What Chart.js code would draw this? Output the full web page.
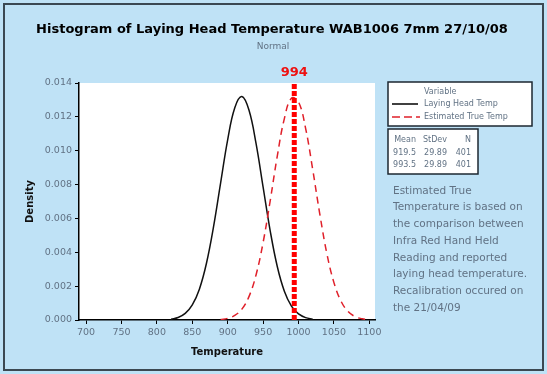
<!DOCTYPE html>
<html>
<head>
<meta charset="utf-8">
<script src="https://cdn.jsdelivr.net/npm/chart.js@4.4.0/dist/chart.umd.min.js"></script>
<style>
  html, body { margin: 0; padding: 0; background: #bfe2f6; }
  #wrap { width: 547px; height: 374px; position: relative; }
</style>
</head>
<body>
<div id="wrap"><canvas id="chart" width="547" height="374"></canvas></div>
<script>
// values
const xTicks = [700, 750, 800, 850, 900, 950, 1000, 1050, 1100];
const yTicks = [0, 0.002, 0.004, 0.006, 0.008, 0.010, 0.012, 0.014];

const layingTemps = [820, 830, 840, 850, 860, 870, 880, 890, 900, 910, 920, 930, 940, 950, 960, 970, 980, 990, 1000, 1010, 1020];
const layingDensity = [0.00005, 0.00015, 0.00039, 0.00089, 0.00182, 0.00335, 0.00551, 0.0081, 0.01066, 0.01254, 0.0132, 0.0124, 0.01043, 0.00785, 0.00527, 0.00316, 0.0017, 0.00082, 0.00036, 0.00014, 0.00005];

const trueTemps = [890, 900, 910, 920, 930, 940, 950, 960, 970, 980, 990, 1000, 1010, 1020, 1030, 1040, 1050, 1060, 1070, 1080, 1090, 1100];
const trueDensity = [0.00003, 0.0001, 0.00027, 0.00064, 0.00138, 0.00266, 0.00458, 0.00704, 0.00968, 0.0119, 0.0131, 0.01288, 0.01132, 0.0089, 0.00627, 0.00393, 0.00221, 0.00111, 0.0005, 0.0002, 0.00007, 0.00002];

const refLine = 994;

const seriesNames = ['Laying Head Temp', 'Estimated True Temp'];
const statHeader = ['Mean', 'StDev', 'N'];
const statRows = [['919.5', '29.89', '401'], ['993.5', '29.89', '401']];
const noteLines = ['Estimated True', 'Temperature is based on', 'the comparison between', 'Infra Red Hand Held', 'Reading and reported', 'laying head temperature.', 'Recalibration occured on', 'the 21/04/09'];

const FONT = '"DejaVu Sans", Verdana, sans-serif';
const GREY = '#617284';

function toPoints(xs, ys) {
    return xs.map((x, i) => ({ x: x, y: ys[i] }));
}

// draws frame, titles, legend, stats table and the note
const decorations = {
    id: 'decorations',
    beforeDraw(chart) {
        const ctx = chart.ctx;
        ctx.save();
        ctx.fillStyle = '#bfe2f6';
        ctx.fillRect(0, 0, 547, 374);
        ctx.strokeStyle = '#3b4852';
        ctx.lineWidth = 2;
        ctx.strokeRect(4, 4, 539, 366);
        const a = chart.chartArea;
        ctx.fillStyle = '#ffffff';
        ctx.fillRect(a.left, a.top, a.right - a.left, a.bottom - a.top);
        ctx.restore();
    },
    afterDraw(chart) {
        const ctx = chart.ctx;
        const xs = chart.scales.x;
        ctx.save();
        ctx.textBaseline = 'middle';

        ctx.fillStyle = '#000';
        ctx.textAlign = 'center';
        ctx.font = 'bold 13px ' + FONT;
        ctx.fillText('Histogram of Laying Head Temperature WAB1006 7mm 27/10/08', 272, 30);
        ctx.fillStyle = GREY;
        ctx.font = '9px ' + FONT;
        ctx.fillText('Normal', 273, 47);

        ctx.fillStyle = '#ee1111';
        ctx.font = 'bold 13px ' + FONT;
        ctx.fillText(String(refLine), xs.getPixelForValue(refLine), 73);

        // legend box
        ctx.fillStyle = '#ffffff';
        ctx.fillRect(388, 82, 144, 44);
        ctx.strokeStyle = '#1d2730';
        ctx.lineWidth = 1.5;
        ctx.strokeRect(388, 82, 144, 44);
        ctx.fillStyle = GREY;
        ctx.font = '8px ' + FONT;
        ctx.textAlign = 'left';
        ctx.fillText('Variable', 424, 92);
        ctx.fillText(seriesNames[0], 424, 104);
        ctx.fillText(seriesNames[1], 424, 117);
        ctx.lineWidth = 1.5;
        ctx.strokeStyle = '#000';
        ctx.beginPath(); ctx.moveTo(392, 104); ctx.lineTo(418, 104); ctx.stroke();
        ctx.strokeStyle = '#e0202a';
        ctx.setLineDash([8, 4]);
        ctx.beginPath(); ctx.moveTo(392, 117); ctx.lineTo(420, 117); ctx.stroke();
        ctx.setLineDash([]);

        // stats box
        ctx.fillStyle = '#ffffff';
        ctx.fillRect(388, 129, 90, 45);
        ctx.strokeStyle = '#1d2730';
        ctx.strokeRect(388, 129, 90, 45);
        ctx.fillStyle = GREY;
        const cols = [416, 447, 471];
        ctx.textAlign = 'right';
        [statHeader].concat(statRows).forEach((row, r) => {
            row.forEach((t, c) => ctx.fillText(t, cols[c], 140 + r * 12.5));
        });

        // note
        ctx.textAlign = 'left';
        ctx.font = '10.5px ' + FONT;
        noteLines.forEach((t, i) => ctx.fillText(t, 393, 191 + i * 16.7));
        ctx.restore();
    }
};

const chart = new Chart(document.getElementById('chart'), {
    type: 'line',
    data: {
        datasets: [
            {
                label: seriesNames[0],
                data: toPoints(layingTemps, layingDensity),
                borderColor: '#111111',
                borderWidth: 1.5,
                pointRadius: 0,
                tension: 0.4,
                order: 2
            },
            {
                label: seriesNames[1],
                data: toPoints(trueTemps, trueDensity),
                borderColor: '#e0202a',
                borderWidth: 1.5,
                borderDash: [7, 5],
                pointRadius: 0,
                tension: 0.4,
                order: 1
            },
            {
                label: 'Reference',
                data: [{ x: refLine, y: 0 }, { x: refLine, y: yTicks[yTicks.length - 1] }],
                borderColor: '#ff0000',
                borderWidth: 5,
                borderDash: [5, 2],
                pointRadius: 0,
                order: 0
            }
        ]
    },
    options: {
        responsive: false,
        animation: false,
        events: [],
        layout: { padding: { left: 24, right: 172, top: 83, bottom: 16 } },
        plugins: { legend: { display: false }, tooltip: { enabled: false } },
        scales: {
            x: {
                type: 'linear',
                min: 690,
                max: 1108,
                afterBuildTicks: s => { s.ticks = xTicks.map(v => ({ value: v })); },
                afterFit: s => { s.height = 38; },
                border: { color: '#000', width: 1.5 },
                grid: { drawOnChartArea: false, drawTicks: true, tickLength: 4, color: '#000' },
                ticks: { color: GREY, font: { family: FONT, size: 9.5 }, padding: 3, maxRotation: 0, callback: v => String(v) },
                title: { display: true, text: 'Temperature', color: '#111', font: { family: FONT, size: 10, weight: 'bold' }, padding: { top: 2, bottom: 0 } }
            },
            y: {
                min: 0,
                max: 0.014,
                afterBuildTicks: s => { s.ticks = yTicks.map(v => ({ value: v })); },
                afterFit: s => { s.width = 55; },
                border: { color: '#000', width: 1.5 },
                grid: { drawOnChartArea: false, drawTicks: true, tickLength: 4, color: '#000' },
                ticks: { color: GREY, font: { family: FONT, size: 9.5 }, padding: 3, callback: v => v.toFixed(3) },
                title: { display: true, text: 'Density', color: '#111', font: { family: FONT, size: 10, weight: 'bold' }, padding: { top: 0, bottom: 0 } }
            }
        }
    },
    plugins: [decorations]
});
</script>
</body>
</html>
